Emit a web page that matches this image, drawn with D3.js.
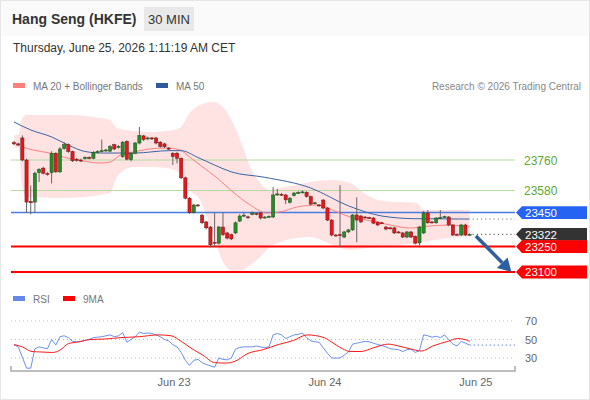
<!DOCTYPE html>
<html><head><meta charset="utf-8">
<script src="https://cdn.jsdelivr.net/npm/d3@7"></script>
<style>body{margin:0;background:#fff}svg{display:block;font-family:"Liberation Sans",Arial,sans-serif}</style>
</head><body><svg id="c" width="590" height="400"></svg>
<script>
// ---- data ----
const opens=[23862,23855,23890,23760,23515,23512,23685,23712,23680,23685,23800,23690,23828,23850,23810,23765,23760,23768,23775,23770,23805,23810,23815,23812,23850,23835,23780,23870,23762,23800,23860,23902,23884,23890,23890,23865,23855,23830,23800,23800,23770,23655,23535,23450,23495,23435,23395,23365,23275,23270,23365,23330,23320,23330,23400,23430,23425,23440,23445,23448,23420,23424,23424,23554,23558,23554,23510,23550,23565,23570,23570,23545,23505,23495,23524,23477,23406,23318,23320,23306,23336,23348,23436,23430,23424,23420,23418,23394,23390,23365,23360,23360,23336,23330,23306,23336,23310,23271,23330,23448,23395,23390,23418,23424,23424,23377,23322,23318,23377,23322];
const closes=[23855,23848,23760,23512,23508,23682,23705,23682,23676,23800,23690,23825,23850,23810,23755,23758,23754,23775,23770,23805,23810,23815,23819,23840,23825,23840,23865,23765,23800,23860,23905,23880,23890,23885,23860,23840,23838,23826,23780,23770,23655,23535,23450,23495,23492,23390,23360,23260,23270,23365,23320,23300,23295,23390,23430,23435,23422,23448,23440,23418,23424,23428,23554,23560,23555,23525,23535,23565,23568,23572,23545,23500,23508,23492,23477,23406,23318,23315,23315,23336,23348,23436,23406,23395,23420,23418,23388,23377,23388,23353,23358,23330,23335,23306,23336,23306,23270,23365,23448,23390,23392,23418,23421,23426,23377,23318,23320,23377,23318,23322];
const highs=[23872,23862,23905,23768,23610,23692,23712,23720,23688,23812,23806,23836,23866,23858,23815,23772,23768,23782,23782,23812,23818,23880,23826,23848,23856,23848,23872,23876,23808,23866,23955,23908,23898,23896,23896,23872,23862,23836,23806,23808,23776,23662,23542,23502,23500,23442,23400,23372,23450,23372,23450,23336,23326,23398,23440,23448,23432,23456,23452,23454,23430,23434,23600,23590,23566,23560,23542,23572,23576,23580,23576,23550,23514,23500,23530,23482,23412,23324,23612,23342,23354,23442,23540,23436,23430,23426,23424,23400,23396,23372,23366,23366,23342,23336,23342,23342,23316,23372,23460,23465,23402,23424,23465,23432,23430,23382,23328,23384,23384,23328];
const lows=[23848,23842,23752,23448,23440,23448,23630,23675,23668,23622,23684,23684,23820,23802,23748,23750,23748,23762,23764,23764,23798,23804,23808,23806,23818,23828,23772,23758,23752,23794,23852,23872,23878,23878,23852,23832,23830,23818,23730,23740,23648,23528,23442,23444,23486,23382,23352,23245,23250,23262,23312,23292,23288,23324,23394,23424,23414,23434,23434,23410,23414,23418,23418,23548,23548,23500,23504,23544,23560,23564,23538,23492,23498,23486,23470,23400,23310,23308,23245,23300,23330,23342,23275,23388,23414,23412,23382,23370,23382,23346,23352,23324,23328,23300,23300,23300,23262,23255,23324,23384,23386,23384,23412,23418,23370,23312,23314,23312,23312,23316];

const ma50Idx=[0,4,9,13,17,21,29,37,40,44,48,52,60,71,80,88,96,109];
const ma50Val=[23984,23937,23896,23848,23810,23801,23801,23815,23815,23775,23730,23690,23658,23595,23490,23430,23414,23412];

const ma20Idx=[2,4.5,8.6,12.7,16.5,20.6,23,25.4,28.5,32.5,36.6,39.7,42,44.5,48.6,52.4,56.5,60.5,63.6,67.7,72.5,77.3,80.4,84.4,90,94.7,99.5,104.3,109];
const ma20Val=[23837,23819,23801,23772,23754,23742,23748,23789,23807,23825,23831,23819,23778,23731,23654,23571,23495,23448,23454,23483,23495,23454,23424,23406,23377,23359,23371,23377,23365];

const bandIdx=[0,1,2,3,12.7,20.6,23,24.6,28.5,32.5,36.6,39.7,42,44.5,47.6,50,52.4,54.8,56.5,58.9,61.2,63.6,67.7,70.8,76.3,80.4,84.4,88.3,96.4,98,104.3,109];
const bandUpper=[23905,23910,24010,24025,24025,24007,23996,23949,23931,23925,23931,23949,24037,24084,24102,24072,23978,23837,23719,23624,23583,23595,23613,23630,23642,23624,23554,23518,23507,23465,23465,23465];
const bandLower=[23835,23830,23600,23540,23536,23554,23565,23660,23719,23719,23713,23683,23583,23524,23318,23159,23106,23112,23141,23188,23247,23277,23300,23306,23259,23230,23241,23247,23271,23277,23300,23306];

const rsi=[44.5,42,31,19,19,40,42,41,40,50,44,53,54,52,48,47.5,48,49,50,52,52.5,53,54,55,53,54,57.5,47,50,53,58,56.5,57,56.5,55,53,50,48.5,44.5,42,36,27.5,22,27.5,28.5,25,23,21.5,20,30,28.5,28,30,39.5,41.5,42,42,42,43,42,41,42,55,56.5,55,51,53,55,55.5,57,52,48.5,47.5,47,41,35,30,30,30,33,36.5,45,46,47,48,47.5,46,44.5,43.5,42,40,39.5,39,37,39,39.5,36,38,55,54,52.5,53.5,52,55,50,45,43,48,46,44];
const rsiMaIdx=[0,2,4.3,6.5,9.3,11,13,15.6,18.2,21.8,25.4,29.9,34.5,37.6,40,42.6,45.2,48,50.7,52.9,56,59.6,63.2,66.9,70.1,74.2,75.9,78.6,80.4,83,86,89.5,92,94.7,97.5,100.2,103.8,106,107.9,109];
const rsiMaVal=[44.5,42,37,36.5,36,38.5,45.5,47.5,50,50.5,52,53,55,54,48,40,33,25,24.5,26.5,35,39,44.5,49,55,52,47.5,40,37,37,41,45,43,40,37.5,43,48,51,50,48];

const levelVals=[23760,23580,23450,23250,23100];
const levelKinds=["green","green","blue","red","red"];
const lastPrice=23322;
const tickIdx=[38.3,74.4,110.5];
const tickLabels=["Jun 23","Jun 24","Jun 25"];
const rsiTicks=[70,50,30];
const targetPrice=23100;

// ---- drawing ----
const svg=d3.select("#c");
const W=590,H=400;
const x=d3.scaleLinear().domain([0,109]).range([14,469.6]);
const y=d3.scaleLinear().domain([23100,23760]).range([272,160]);
const ry=d3.scaleLinear().domain([30,70]).range([358,321]);
const L=11,R=515;

svg.append("rect").attr("x",0).attr("y",0).attr("width",W).attr("height",36).attr("fill","#fafafa");
svg.append("rect").attr("x",0.5).attr("y",0.5).attr("width",W-1).attr("height",H-1).attr("fill","none").attr("stroke","#e6e6e6");

svg.append("text").attr("x",12).attr("y",24).attr("font-size",14).attr("font-weight","bold").attr("fill","#333").text("Hang Seng (HKFE)");
svg.append("rect").attr("x",144).attr("y",7).attr("width",50).attr("height",24).attr("fill","#e8e8e8");
svg.append("text").attr("x",169).attr("y",24).attr("text-anchor","middle").attr("font-size",13).attr("fill","#333").text("30 MIN");
svg.append("text").attr("x",13).attr("y",52).attr("font-size",12).attr("fill","#333").text("Thursday, June 25, 2026 1:11:19 AM CET");

// legends
function legend(xp,yp,col,label){
  svg.append("rect").attr("x",xp).attr("y",yp-3).attr("width",12).attr("height",5).attr("fill",col);
  svg.append("text").attr("x",xp+20).attr("y",yp+3.5).attr("font-size",10).attr("fill","#777").text(label);
}
legend(13,86,"#ff7f7f","MA 20 + Bollinger Bands");
legend(156,86,"#2f5b9c","MA 50");
svg.append("text").attr("x",581).attr("y",89.5).attr("text-anchor","end").attr("font-size",10).attr("fill","#888").text("Research \u00a9 2026 Trading Central");
legend(13,299,"#6688e8","RSI");
legend(63,299,"#ff0000","9MA");

// Bollinger band
const band=bandIdx.map((d,i)=>({i:d,u:bandUpper[i],l:bandLower[i]}));
svg.append("path").datum(band).attr("fill","#ffe3e3")
  .attr("d",d3.area().x(d=>x(d.i)).y0(d=>y(d.l)).y1(d=>y(d.u)).curve(d3.curveMonotoneX));

// level lines
const levelColor={green:"#b6da9e",blue:"#4a7be0",red:"#ff0000"};
const levelWidth={green:1,blue:1.5,red:2};
levelVals.forEach((v,i)=>{
  svg.append("line").attr("x1",L).attr("x2",R).attr("y1",y(v)).attr("y2",y(v))
    .attr("stroke",levelColor[levelKinds[i]]).attr("stroke-width",levelWidth[levelKinds[i]]);
});

// MA lines
svg.append("path").datum(ma20Idx.map((d,i)=>[d,ma20Val[i]])).attr("fill","none").attr("stroke","#ff8080").attr("stroke-width",1)
  .attr("d",d3.line().x(d=>x(d[0])).y(d=>y(d[1])).curve(d3.curveMonotoneX));
svg.append("path").datum(ma50Idx.map((d,i)=>[d,ma50Val[i]])).attr("fill","none").attr("stroke","#3a63a6").attr("stroke-width",1)
  .attr("d",d3.line().x(d=>x(d[0])).y(d=>y(d[1])).curve(d3.curveMonotoneX));

// dotted extensions
const lastIdx=opens.length-1;
[[ma50Val[ma50Val.length-1],"#777"],[lastPrice,"#444"]].forEach(([v,c])=>{
  svg.append("line").attr("x1",x(lastIdx)+3).attr("x2",R).attr("y1",y(v)).attr("y2",y(v))
    .attr("stroke",c).attr("stroke-width",1).attr("stroke-dasharray","1.2,3");
});

// candles
const cw=3.2;
const g=svg.append("g");
opens.forEach((o,i)=>{
  const c=closes[i],up=c>=o;
  const cx=x(i);
  g.append("line").attr("x1",cx).attr("x2",cx).attr("y1",y(highs[i])).attr("y2",y(lows[i])).attr("stroke","#666").attr("stroke-width",1);
  const top=y(Math.max(o,c)),bot=y(Math.min(o,c));
  g.append("rect").attr("x",cx-cw/2).attr("y",top).attr("width",cw).attr("height",Math.max(1,bot-top))
    .attr("fill",up?"#2a8a2a":"#e8161b").attr("stroke",up?"#1d4d1d":"#6b1a1a").attr("stroke-width",0.5);
});

// arrow
const ax0=x(lastIdx+1.5),ay0=y(lastPrice-10),ax1=x(lastIdx+10),ay1=y(targetPrice);
const ang=Math.atan2(ay1-ay0,ax1-ax0),hl=13,hw=7.5;
const bx=ax1-hl*Math.cos(ang),by=ay1-hl*Math.sin(ang);
svg.append("line").attr("x1",ax0).attr("y1",ay0).attr("x2",bx).attr("y2",by).attr("stroke","#2e5f9f").attr("stroke-width",3.5);
svg.append("path").attr("fill","#2e5f9f").attr("d",`M${ax1},${ay1}L${bx-hw*Math.sin(ang)},${by+hw*Math.cos(ang)}L${bx+hw*Math.sin(ang)},${by-hw*Math.cos(ang)}Z`);

// right labels
function tag(v,col){
  const yc=y(v);
  svg.append("path").attr("fill",col).attr("d",`M516,${yc}L522,${yc-6.4}L587,${yc-6.4}L587,${yc+6.4}L522,${yc+6.4}Z`);
  svg.append("text").attr("x",525).attr("y",yc+4.2).attr("font-size",11.5).attr("fill","#fff").text(v);
}
levelVals.forEach((v,i)=>{
  if(levelKinds[i]==="green"){
    svg.append("text").attr("x",524).attr("y",y(v)+4.5).attr("font-size",12).attr("fill","#62a832").text(v);
  } else if(levelKinds[i]==="blue") tag(v,"#2563f2");
});
tag(lastPrice,"#333");
levelVals.forEach((v,i)=>{ if(levelKinds[i]==="red") tag(v,"#ff0000"); });

// RSI panel
rsiTicks.forEach(t=>{
  svg.append("line").attr("x1",L).attr("x2",R).attr("y1",ry(t)).attr("y2",ry(t)).attr("stroke","#bbb").attr("stroke-dasharray","1,3");
  svg.append("text").attr("x",525).attr("y",ry(t)+4).attr("font-size",11).attr("fill","#666").text(t);
});
svg.append("path").datum(rsi).attr("fill","none").attr("stroke","#6d8ff0").attr("stroke-width",1)
  .attr("d",d3.line().x((d,i)=>x(i)).y(d=>ry(d)));
svg.append("line").attr("x1",x(lastIdx)).attr("x2",R).attr("y1",ry(rsi[lastIdx])).attr("y2",ry(rsi[lastIdx]))
  .attr("stroke","#6d8ff0").attr("stroke-dasharray","1.5,2.5");
svg.append("path").datum(rsiMaIdx.map((d,i)=>[d,rsiMaVal[i]])).attr("fill","none").attr("stroke","#ff1a1a").attr("stroke-width",1)
  .attr("d",d3.line().x(d=>x(d[0])).y(d=>ry(d[1])).curve(d3.curveMonotoneX));

// x axis
const xa=svg.append("g");
xa.append("path").attr("d",`M${L},366V371H${R}V366`).attr("fill","none").attr("stroke","#aaa").attr("stroke-width",1.5);
tickIdx.forEach((t,i)=>{
  xa.append("text").attr("x",x(t)).attr("y",386).attr("text-anchor","middle").attr("font-size",11).attr("fill","#666").text(tickLabels[i]);
});
</script></body></html>
